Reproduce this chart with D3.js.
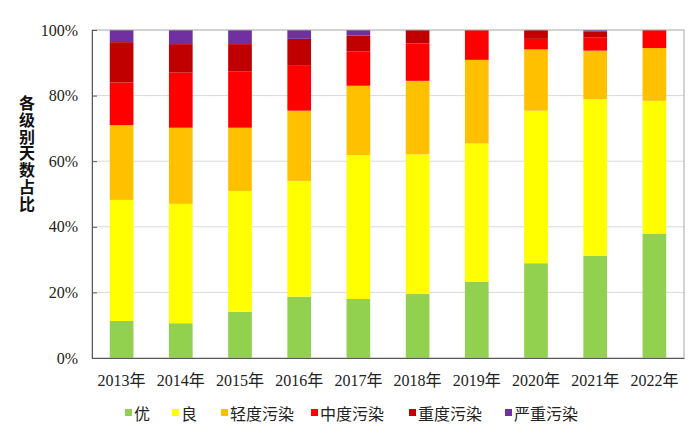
<!DOCTYPE html>
<html>
<head>
<meta charset="utf-8">
<script src="https://cdn.jsdelivr.net/npm/d3@7"></script>
<style>
  body { margin: 0; background: #fff; }
  svg { display: block; }
</style>
</head>
<body>
<div id="graph"></div>
<script>
const years = ['2013年', '2014年', '2015年', '2016年', '2017年', '2018年', '2019年', '2020年', '2021年', '2022年'];
const levels = ['优', '良', '轻度污染', '中度污染', '重度污染', '严重污染'];
const levelColors = ['#92D050', '#FFFF00', '#FFC000', '#FF0000', '#C00000', '#7030A0'];
const yTicks = [0, 20, 40, 60, 80, 100];

// share of days per level (%)
const excellent = [11.3, 10.6, 14.1, 18.7, 18.0, 19.5, 23.3, 28.9, 31.2, 37.8];
const good      = [36.9, 36.4, 36.8, 35.3, 43.9, 42.6, 42.1, 46.5, 47.7, 40.6];
const light     = [22.8, 23.2, 19.3, 21.4, 21.1, 22.4, 25.5, 18.7, 14.8, 16.1];
const moderate  = [13.0, 16.8, 17.1, 13.9, 10.4, 11.4, 9.1, 3.2, 4.1, 5.5];
const heavy     = [12.3, 8.7, 8.4, 8.0, 4.9, 4.1, 0, 2.7, 1.8, 0];
const severe    = [3.7, 4.3, 4.3, 2.7, 1.7, 0, 0, 0, 0.4, 0];

const series = [excellent, good, light, moderate, heavy, severe];

const width = 700, height = 437;
const plotLeft = 92, plotRight = 684, plotTop = 30, plotBottom = 358;

const table = years.map((y, i) => {
  const row = { year: y };
  levels.forEach((l, j) => { row[l] = series[j][i]; });
  return row;
});

const stack = d3.stack().keys(levels)(table);

const svg = d3.select('#graph')
              .append('svg')
              .attr('width', width)
              .attr('height', height);

const xScale = d3.scaleBand()
                 .domain(years)
                 .range([plotLeft, plotRight])
                 .paddingInner(0.6)
                 .paddingOuter(0.3);

const yScale = d3.scaleLinear()
                 .domain([0, 100])
                 .range([plotBottom, plotTop]);

// gridlines
svg.append('g')
   .selectAll('line')
   .data(yTicks.slice(1, -1))
   .enter()
   .append('line')
   .attr('x1', plotLeft)
   .attr('x2', plotRight)
   .attr('y1', d => yScale(d))
   .attr('y2', d => yScale(d))
   .attr('stroke', '#d9d9d9')
   .attr('stroke-width', 1);

// bars
svg.append('g')
   .selectAll('g')
   .data(stack)
   .enter()
   .append('g')
   .attr('fill', (d, i) => levelColors[i])
   .selectAll('rect')
   .data(d => d)
   .enter()
   .append('rect')
   .attr('x', d => xScale(d.data.year))
   .attr('y', d => yScale(d[1]))
   .attr('width', xScale.bandwidth())
   .attr('height', d => yScale(d[0]) - yScale(d[1]));

// plot frame
svg.append('rect')
   .attr('x', plotLeft)
   .attr('y', plotTop)
   .attr('width', plotRight - plotLeft)
   .attr('height', plotBottom - plotTop)
   .attr('fill', 'none')
   .attr('stroke', '#a6a6a6')
   .attr('stroke-width', 1);

const yAxis = d3.axisLeft(yScale)
                .tickValues(yTicks)
                .tickFormat(d => d + '%')
                .tickSize(-5)
                .tickPadding(14);

svg.append('g')
   .attr('id', 'y-axis')
   .attr('transform', `translate(${plotLeft}, 0)`)
   .call(yAxis)
   .call(g => g.select('.domain').attr('stroke', '#595959'))
   .call(g => g.selectAll('.tick line').attr('stroke', '#595959'))
   .call(g => g.selectAll('text')
               .attr('font-family', '"Liberation Serif", "Times New Roman", serif')
               .attr('font-size', 16)
               .attr('fill', '#222'));

const xAxis = d3.axisBottom(xScale).tickSize(0).tickPadding(17);

svg.append('g')
   .attr('id', 'x-axis')
   .attr('transform', `translate(0, ${plotBottom})`)
   .call(xAxis)
   .call(g => g.select('.domain').attr('stroke', '#595959'))
   .call(g => g.selectAll('text')
               .attr('font-family', '"Liberation Serif", "Noto Sans CJK SC", serif')
               .attr('font-size', 16)
               .attr('fill', '#222'));

// vertical axis title, upright characters
svg.append('text')
   .attr('x', 27)
   .attr('y', 95)
   .style('writing-mode', 'vertical-rl')
   .style('text-orientation', 'upright')
   .style('letter-spacing', '0.8px')
   .attr('font-family', '"Noto Sans CJK SC", sans-serif')
   .attr('font-weight', 'bold')
   .attr('font-size', 16)
   .attr('fill', '#111')
   .text('各级别天数占比');

// legend
const legendX = [125, 172, 221, 311, 409, 505];
const legend = svg.append('g')
                  .selectAll('g')
                  .data(levels)
                  .enter()
                  .append('g')
                  .attr('transform', (d, i) => `translate(${legendX[i]}, 413)`);

legend.append('rect')
      .attr('x', 0)
      .attr('y', -4)
      .attr('width', 7)
      .attr('height', 7)
      .attr('fill', (d, i) => levelColors[i]);

legend.append('text')
      .attr('x', 9)
      .attr('y', 0)
      .attr('dominant-baseline', 'central')
      .attr('font-family', '"Noto Sans CJK SC", sans-serif')
      .attr('font-size', 16)
      .attr('fill', '#222')
      .text(d => d);
</script>
</body>
</html>
